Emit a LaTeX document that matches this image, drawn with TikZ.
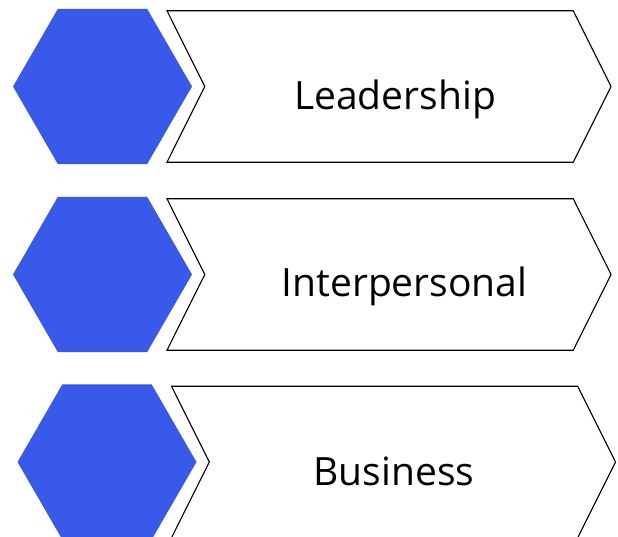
\documentclass[tikz,border=0pt]{standalone}
\usepackage{fontspec}
\setmainfont{Open Sans}
\usetikzlibrary{positioning,shapes.geometric,shapes.symbols}
\definecolor{hexblue}{RGB}{56,89,234}

\begin{document}
\begin{tikzpicture}[
  x=1pt, y=-1pt,
  hexa/.style={regular polygon,regular polygon sides=6,minimum size=179pt,inner sep=0pt,outer sep=0pt,fill=hexblue},
  chev/.style={signal,signal from=west,signal to=east,signal pointer angle=127,draw,line width=1.1pt,minimum width=444pt,minimum height=151.5pt,inner sep=0pt},
  lbl/.style={font=\fontsize{39}{47}\selectfont,anchor=base,inner sep=0pt}
]
\useasboundingbox (0,0) rectangle (618,537);
% row 1
\node[hexa] (lead-hex) at (102.5,86.5) {};
\node[chev] (lead-chev) at (389,86.5) {};
\node[lbl] (lead-txt) at ([shift={(6,23.5)}]lead-chev.center) {Leadership};
% row 2
\node[hexa] (inter-hex) at (102.5,274.5) {};
\node[chev] (inter-chev) at (389,274.5) {};
\node[lbl] (inter-txt) at ([shift={(15.5,22)}]inter-chev.center) {Interpersonal};
% row 3
\node[hexa] (bus-hex) at (107,462) {};
\node[chev] (bus-chev) at (393.5,462) {};
\node[lbl] (bus-txt) at ([shift={(0.5,23)}]bus-chev.center) {Business};
\end{tikzpicture}
\end{document}
